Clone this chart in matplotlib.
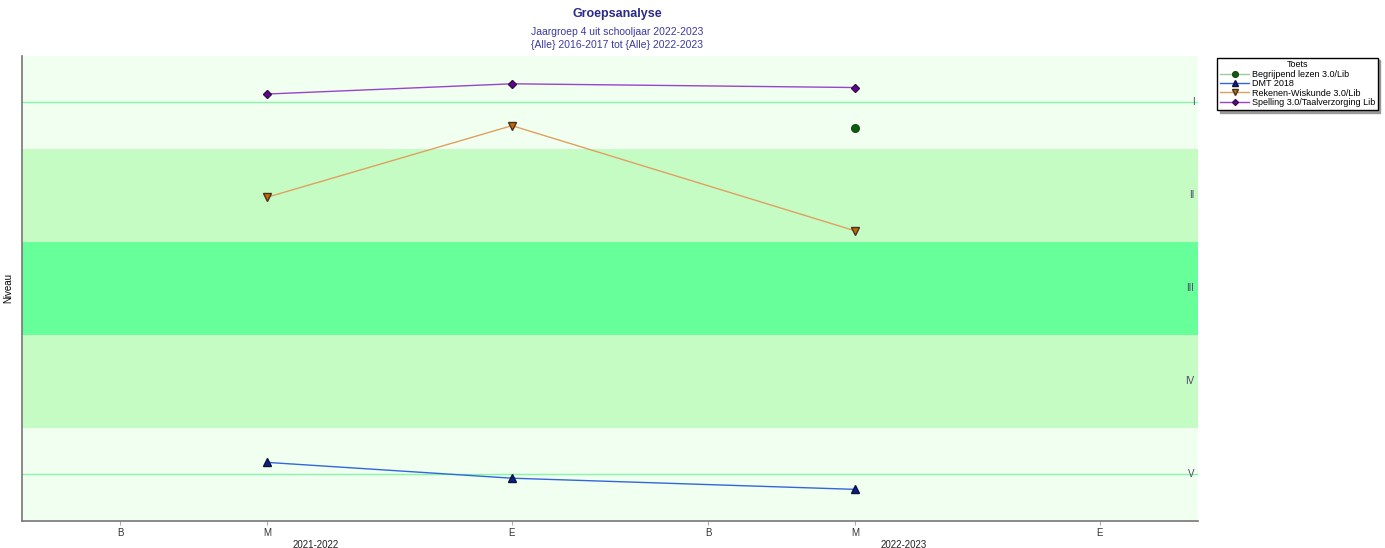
import matplotlib.pyplot as plt

plt.rcParams.update({
    'font.size': 7,
    'font.family': ['Liberation Sans', 'DejaVu Sans'],
})

# x positions in months from the first "B" moment
tick_pos = [0, 3, 8, 12, 15, 20]
tick_labels = ['B', 'M', 'E', 'B', 'M', 'E']
year_labels = ['2021-2022', '2022-2023']
year_pos = [4, 16]

levels = ['I', 'II', 'III', 'IV', 'V']

begrijpend_x = [15]
begrijpend_y = [4.22]
dmt_x = [3, 8, 15]
dmt_y = [0.63, 0.46, 0.34]
rekenen_x = [3, 8, 15]
rekenen_y = [3.48, 4.25, 3.12]
spelling_x = [3, 8, 15]
spelling_y = [4.59, 4.70, 4.66]

fig = plt.figure(figsize=(13.85, 5.48), dpi=100)
ax = fig.add_axes([0.0159, 0.0493, 0.849, 0.8487])
ax.set_xlim(-2, 22)
ax.set_ylim(0, 5)

# level bands (I at top, V at bottom)
band_colors = ['#f0fff0', '#c4fcc4', '#66ff99', '#c4fcc4', '#f0fff0']
for i, c in enumerate(band_colors):
    ax.axhspan(4 - i, 5 - i, color=c, lw=0, zorder=0)
    ax.text(21.93, 4.5 - i, levels[i], ha='right', va='center',
            fontsize=7, color='#554466')
ax.axhline(4.5, color='#88f5a8', lw=1, zorder=1)
ax.axhline(0.5, color='#88f5a8', lw=1, zorder=1)

ax.plot(begrijpend_x, begrijpend_y, color='#99cc99', lw=1, marker='o',
        ms=5.5, mfc='#006600', mec='#224422', label='Begrijpend lezen 3.0/Lib', zorder=3)
ax.plot(dmt_x, dmt_y, color='#3366dd', lw=1, marker='^',
        ms=5.5, mfc='#002299', mec='#111133', label='DMT 2018', zorder=3)
ax.plot(rekenen_x, rekenen_y, color='#e0a060', lw=1, marker='v',
        ms=5.5, mfc='#cc6600', mec='#443322', label='Rekenen-Wiskunde 3.0/Lib', zorder=3)
ax.plot(spelling_x, spelling_y, color='#9944cc', lw=1, marker='D',
        ms=4, mfc='#660099', mec='#331144', label='Spelling 3.0/Taalverzorging Lib', zorder=3)

ax.set_xticks(tick_pos)
ax.set_xticklabels(tick_labels, color='#333333', fontsize=7)
ax.tick_params(axis='x', length=3, color='#aaaaaa', pad=2)
ax.set_yticks([])
for x, lab in zip(year_pos, year_labels):
    ax.text(x, -0.04, lab, transform=ax.get_xaxis_transform(), ha='center',
            va='top', fontsize=7, color='#222222')

for s in ['top', 'right']:
    ax.spines[s].set_visible(False)
for s in ['left', 'bottom']:
    ax.spines[s].set_color('#777777')
    ax.spines[s].set_linewidth(1.2)

ax.set_ylabel('Niveau', fontsize=7, labelpad=6)

fig.text(0.4455, 0.975, 'Groepsanalyse', ha='center', va='center',
         fontsize=9, fontweight='bold', color='#2a2a88')
fig.text(0.4455, 0.941, 'Jaargroep 4 uit schooljaar 2022-2023', ha='center',
         va='center', fontsize=7.5, color='#3a3aa0')
fig.text(0.4455, 0.918, '{Alle} 2016-2017 tot {Alle} 2022-2023', ha='center',
         va='center', fontsize=7.5, color='#3a3aa0')

leg = fig.legend(loc='upper left', bbox_to_anchor=(0.879, 0.895), title='Toets',
                 fontsize=6.5, title_fontsize=6.5, frameon=True, fancybox=False,
                 edgecolor='black', borderpad=0.3, labelspacing=0.05,
                 handlelength=3.2, handletextpad=0.3, borderaxespad=0,
                 markerscale=0.75, shadow={'color': '#999999', 'alpha': 1})
leg.get_frame().set_linewidth(1)

fig.savefig('out.png', dpi=100)
